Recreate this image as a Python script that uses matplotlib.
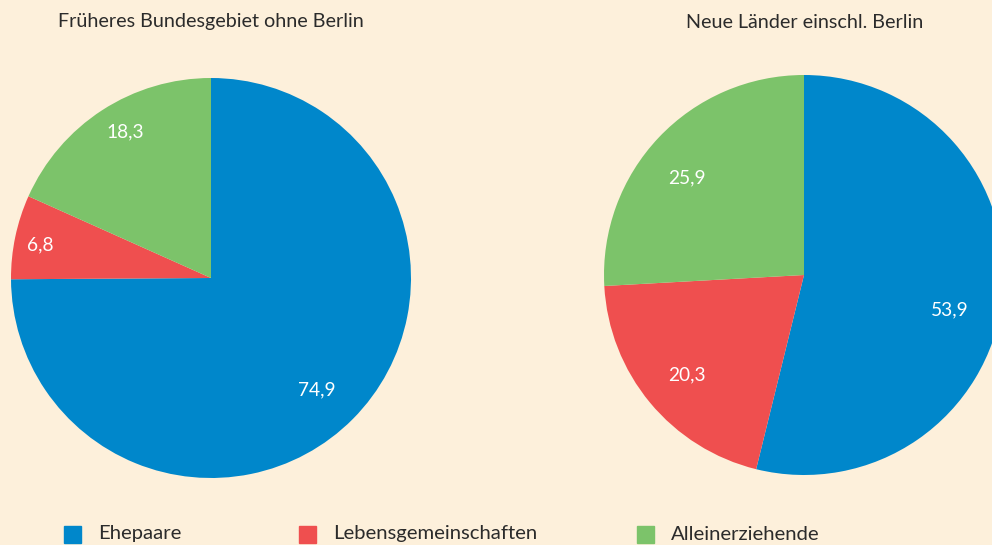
"""Family forms: two pie charts, West vs. East Germany."""

import matplotlib
matplotlib.use("Agg")
import matplotlib.pyplot as plt
from matplotlib.patches import Rectangle
import numpy as np

categories = ["Ehepaare", "Lebensgemeinschaften", "Alleinerziehende"]
west_title = "Früheres Bundesgebiet ohne Berlin"
east_title = "Neue Länder einschl. Berlin"
west_values = [74.9, 6.8, 18.3]
east_values = [53.9, 20.3, 25.9]

colors = ["#0087cb", "#ef4f4f", "#7cc36a"]
bg = "#fdf0db"
text_color = "#2b2b2b"

plt.rcParams["font.family"] = ["Lato", "DejaVu Sans"]

W, H = 992, 545
fig = plt.figure(figsize=(W / 100, H / 100), dpi=100, facecolor=bg)


def px_axes(cx, cy, r):
    return fig.add_axes([(cx - r) / W, (H - cy - r) / H, 2 * r / W, 2 * r / H])


def draw_pie(ax, values, dists, offsets):
    wedges, _ = ax.pie(values, colors=colors, startangle=90, counterclock=False,
                       radius=1, wedgeprops=dict(linewidth=0))
    for w, v, d, off in zip(wedges, values, dists, offsets):
        ang = np.deg2rad((w.theta1 + w.theta2) / 2 + off)
        ax.text(d * np.cos(ang), d * np.sin(ang), f"{v:.1f}".replace(".", ","),
                ha="center", va="center", color="white", fontsize=13.8)
    ax.set_xlim(-1, 1)
    ax.set_ylim(-1, 1)
    ax.set_aspect("equal")
    ax.axis("off")


ax1 = px_axes(211, 278, 200)
draw_pie(ax1, west_values, [0.77, 0.87, 0.85], [-2, 1, -2.5])
ax2 = px_axes(804, 275, 200)
draw_pie(ax2, east_values, [0.75, 0.77, 0.76], [-6.5, 1, 3.5])

fig.text(211 / W, 1 - 22 / H, west_title, ha="center", va="center",
         fontsize=14.2, color=text_color)
fig.text(805 / W, 1 - 22 / H, east_title, ha="center", va="center",
         fontsize=14.2, color=text_color)

# legend along the bottom edge
for x, label, c in zip([64, 299, 637], categories, colors):
    fig.patches.append(Rectangle((x / W, 1 - 543 / H), 17 / W, 17 / H,
                                 transform=fig.transFigure, color=c))
    fig.text((x + 34) / W, 1 - 534 / H, label, ha="left", va="center",
             fontsize=14.6, color=text_color)

fig.savefig("out.png", dpi=100, facecolor=bg)
